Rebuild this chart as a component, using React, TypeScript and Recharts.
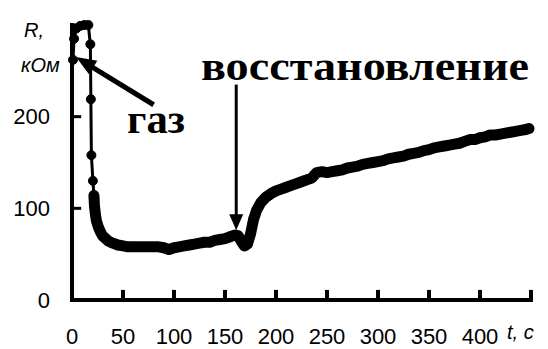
import React from 'react';
import { LineChart, Line, XAxis, YAxis, ReferenceLine } from 'recharts';

// early points (gas pulse), drawn as separate markers
const earlyTime = [1, 2, 4, 8, 12, 16, 18, 18.5, 19, 20.5, 21.5];
const earlyR = [262, 285, 296, 299, 300, 300, 279, 219, 158, 130, 114];

// dense measurement after the pulse
const mainTime = [
  21.5, 22, 23, 24, 26, 28, 30, 33, 36, 40, 45, 50, 55, 60, 65, 70, 75, 80, 85, 90, 95, 100,
  105, 110, 115, 120, 125, 130, 135, 140, 145, 150, 155, 160, 163, 166, 169, 172, 175, 178,
  181, 185, 190, 195, 200, 205, 210, 215, 220, 225, 230, 235, 240, 245, 250, 255, 260, 265,
  270, 275, 280, 285, 290, 295, 300, 305, 310, 315, 320, 325, 330, 335, 340, 345, 350, 355,
  360, 365, 370, 375, 380, 385, 390, 395, 400, 405, 410, 415, 420, 425, 430, 435, 440, 445, 448,
];
const mainR = [
  114, 103, 93, 86, 79, 74, 70, 67, 64, 62, 60, 59, 58, 58, 58, 58, 58, 58, 58, 57, 55, 57,
  58, 59, 60, 61, 62, 63, 63, 65, 66, 67, 69, 71, 70, 64, 59, 61, 72, 88,
  98, 106, 112, 116, 119, 121, 123, 125, 127, 129, 131, 133, 139, 140, 139, 140, 141, 142,
  144, 145, 146, 148, 149, 150, 151, 152, 154, 155, 156, 157, 159, 160, 161, 163, 164, 166,
  167, 168, 169, 170, 171, 173, 175, 175, 177, 178, 180, 180, 181, 182, 183, 184, 185, 186, 187,
];

const xTicks = [0, 50, 100, 150, 200, 250, 300, 350, 400];
const yTicks = [0, 100, 200];
const innerXTicks = [50, 100, 150, 200, 250, 300, 350, 400, 450];
const innerYTicks = [100, 200, 300];

const earlyData = earlyTime.map((t, i) => ({ t, r: earlyR[i] }));
const mainData = mainTime.map((t, i) => ({ t, r: mainR[i] }));

const tickFont = { fontFamily: 'Liberation Sans, Arial, sans-serif', fontSize: 22, fill: '#000' };

const arrow = (w: number, head: number, headW: number) => (props: any) => {
  const { x1, y1, x2, y2 } = props;
  const dx = x2 - x1;
  const dy = y2 - y1;
  const len = Math.hypot(dx, dy) || 1;
  const ux = dx / len;
  const uy = dy / len;
  const bx = x2 - ux * head;
  const by = y2 - uy * head;
  const px = (-uy * headW) / 2;
  const py = (ux * headW) / 2;
  return (
    <g>
      <line x1={x1} y1={y1} x2={bx + ux * 2} y2={by + uy * 2} stroke="#000" strokeWidth={w} />
      <polygon points={`${x2},${y2} ${bx + px},${by + py} ${bx - px},${by - py}`} fill="#000" />
    </g>
  );
};

export default function App() {
  return (
    <div style={{ position: 'absolute', left: 0, top: 0, width: 548, height: 349, background: '#fff' }}>
      <LineChart width={548} height={349} margin={{ top: 25, right: 17, bottom: 0, left: 0 }}>
        <XAxis
          dataKey="t"
          type="number"
          domain={[0, 450]}
          ticks={xTicks}
          interval={0}
          allowDuplicatedCategory={false}
          height={49}
          tickLine={false}
          tickSize={0}
          tickMargin={28}
          tick={tickFont}
          axisLine={{ stroke: '#000', strokeWidth: 4, strokeLinecap: 'square' }}
        />
        <YAxis
          type="number"
          domain={[0, 300]}
          ticks={yTicks}
          interval={0}
          width={72}
          tickLine={false}
          tickSize={0}
          tickMargin={22}
          tick={tickFont}
          axisLine={{ stroke: '#000', strokeWidth: 4, strokeLinecap: 'square' }}
        />
        {innerXTicks.map((v) => (
          <ReferenceLine key={'x' + v} segment={[{ x: v, y: 0 }, { x: v, y: 11 }]} stroke="#000" strokeWidth={4} ifOverflow="visible" />
        ))}
        {innerYTicks.map((v) => (
          <ReferenceLine key={'y' + v} segment={[{ x: 0, y: v }, { x: 9, y: v }]} stroke="#000" strokeWidth={3} ifOverflow="visible" />
        ))}
        <Line
          data={mainData}
          dataKey="r"
          stroke="#000"
          strokeWidth={11}
          strokeLinejoin="round"
          strokeLinecap="round"
          dot={false}
          isAnimationActive={false}
        />
        <Line
          data={earlyData}
          dataKey="r"
          stroke="#000"
          strokeWidth={3}
          dot={{ r: 4.5, fill: '#000', stroke: '#000', strokeWidth: 1 }}
          isAnimationActive={false}
        />
        <ReferenceLine segment={[{ x: 80, y: 213 }, { x: 4, y: 265 }]} ifOverflow="visible" shape={arrow(5, 20, 16)} />
        <ReferenceLine segment={[{ x: 161, y: 235 }, { x: 161, y: 76 }]} ifOverflow="visible" shape={arrow(3, 16, 14)} />
      </LineChart>
      <svg width={548} height={349} style={{ position: 'absolute', left: 0, top: 0, pointerEvents: 'none' }}>
        <g style={{ fontFamily: 'Liberation Sans, Arial, sans-serif', fontStyle: 'italic', fontSize: 20 }} fill="#000">
          <text x={24} y={37}>R,</text>
          <text x={21} y={72}>кОм</text>
          <text x={507} y={339}>t, с</text>
        </g>
        <g style={{ fontFamily: 'Liberation Serif, Times New Roman, serif', fontWeight: 'bold', fontSize: 40 }} fill="#000">
          <text x={127} y={133} textLength={58} lengthAdjust="spacingAndGlyphs">газ</text>
          <text x={201} y={80} textLength={328} lengthAdjust="spacingAndGlyphs">восстановление</text>
        </g>
      </svg>
    </div>
  );
}
